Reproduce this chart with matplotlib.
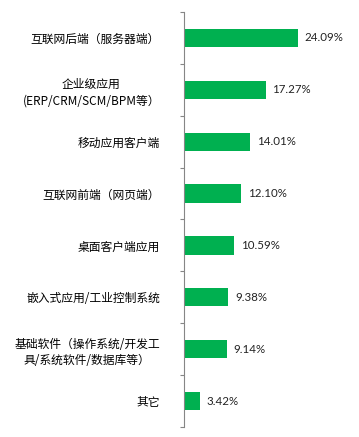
import matplotlib
matplotlib.use('Agg')
import matplotlib.pyplot as plt
import numpy as np

plt.rcParams['font.family'] = ['Noto Sans CJK SC', 'DejaVu Sans']

categories = ['互联网后端（服务器端）',
              '企业级应用\n(ERP/CRM/SCM/BPM等）',
              '移动应用客户端',
              '互联网前端（网页端）',
              '桌面客户端应用',
              '嵌入式应用/工业控制系统',
              '基础软件（操作系统/开发工\n具/系统软件/数据库等）',
              '其它']
shares = [24.09, 17.27, 14.01, 12.10, 10.59, 9.38, 9.14, 3.42]
share_labels = ['24.09%', '17.27%', '14.01%', '12.10%', '10.59%', '9.38%', '9.14%', '3.42%']

W, H = 359, 437
fig = plt.figure(figsize=(W / 100, H / 100), dpi=100)
ax = fig.add_axes([183.5 / W, 10 / H, (340 - 183.5) / W, (425 - 10) / H])

y = np.arange(len(categories))
ax.barh(y, shares, height=0.35, color='#00B050')

for yi, v, lab in zip(y, shares, share_labels):
    ax.annotate(lab, (v, yi), xytext=(5, 0), textcoords='offset points',
                va='center', ha='left', fontsize=8.3, family=['Lato', 'DejaVu Sans'],
                color='#222222')

ax.set_xlim(0, (340 - 183.5) / 4.75)
ax.set_ylim(len(categories) - 0.5, -0.5)

# labels at bar centers, ticks at category boundaries
ax.set_yticks(y)
ax.set_yticklabels(categories, fontsize=8.5, multialignment='center', linespacing=1.3)
ax.tick_params(axis='y', which='major', length=0, pad=17)
ax.set_yticks(np.arange(len(categories) + 1) - 0.5, minor=True)
ax.tick_params(axis='y', which='minor', length=3, width=0.8, color='#868686')
ax.set_xticks([])

for side in ['top', 'right', 'bottom']:
    ax.spines[side].set_visible(False)
ax.spines['left'].set_color('#868686')
ax.spines['left'].set_linewidth(0.8)

fig.savefig('out.png', dpi=100)
